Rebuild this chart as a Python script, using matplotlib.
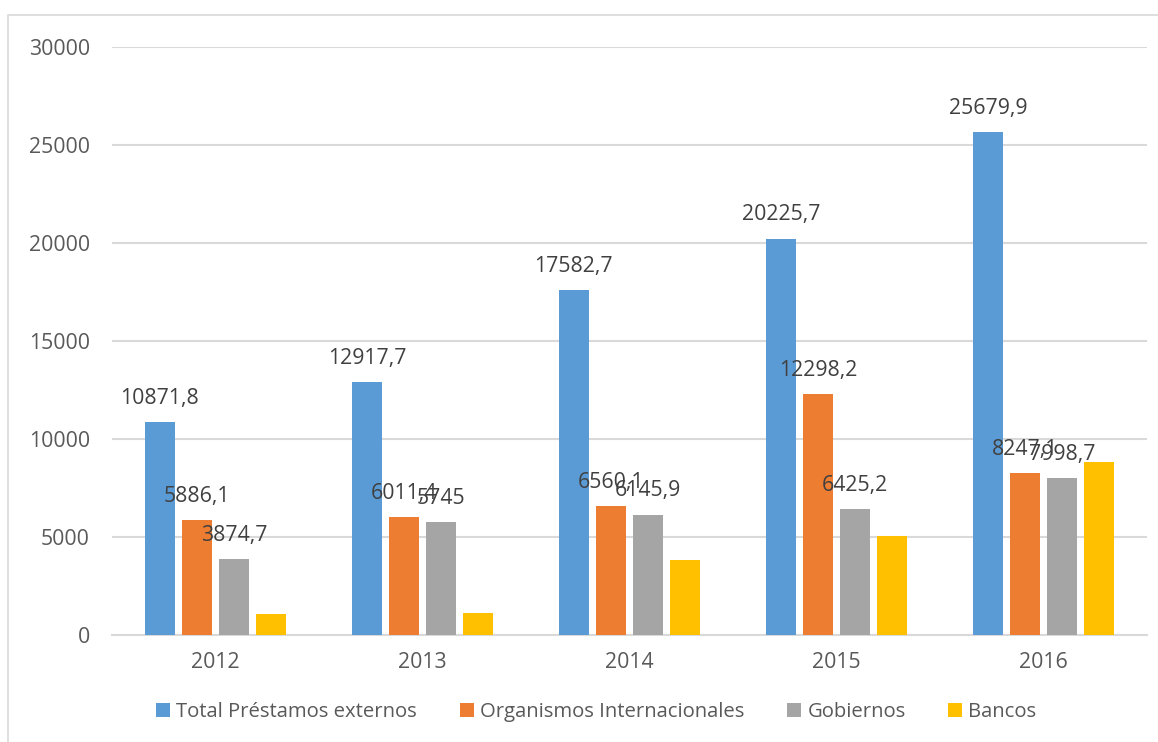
import matplotlib.pyplot as plt
import numpy as np
from matplotlib.patches import Rectangle

plt.rcParams['font.family'] = ['Open Sans', 'DejaVu Sans']

years = ["2012", "2013", "2014", "2015", "2016"]
total = [10871.8, 12917.7, 17582.7, 20225.7, 25679.9]
organismos = [5886.1, 6011.4, 6560.1, 12298.2, 8247.1]
gobiernos = [3874.7, 5745, 6145.9, 6425.2, 7998.7]
bancos = [1070, 1100, 3810, 5050, 8830]

series = [
    ("Total Préstamos externos", total, "#5b9bd5", True),
    ("Organismos Internacionales", organismos, "#ed7d31", True),
    ("Gobiernos", gobiernos, "#a5a5a5", True),
    ("Bancos", bancos, "#ffc000", False),
]

fig = plt.figure(figsize=(11.58, 7.42), dpi=100)
fig.patches.append(Rectangle((0.007, -0.01), 1.0, 0.99, transform=fig.transFigure,
                             fill=False, edgecolor="#d9d9d9", linewidth=1.2))
ax = fig.add_axes([0.0967, 0.1442, 0.8938, 0.7925])

x = np.arange(len(years))
width = 0.142
step = 0.179
for i, (name, vals, color, lab) in enumerate(series):
    pos = x + (i - 1.5) * step
    ax.bar(pos, vals, width, color=color, label=name, zorder=3)
    if lab:
        for px, v in zip(pos, vals):
            ax.annotate(f"{v:g}".replace(".", ","), (px, v), xytext=(0, 17),
                        textcoords="offset points", ha="center", va="center",
                        fontsize=15.3, color="#404040", zorder=4)

ax.set_xlim(-0.5, 4.5)
ax.set_ylim(0, 30000)
ax.set_yticks(np.arange(0, 30001, 5000))
ax.set_xticks(x)
ax.set_xticklabels(years)
ax.tick_params(length=0, labelsize=15.3, labelcolor="#595959")
ax.tick_params(axis="y", pad=16)
ax.tick_params(axis="x", pad=12)
ax.grid(axis="y", color="#d9d9d9", linewidth=1.5, zorder=0)
for s in ["top", "right", "left"]:
    ax.spines[s].set_visible(False)
ax.spines["bottom"].set_color("#d9d9d9")
ax.spines["bottom"].set_linewidth(1.5)

fig.legend(loc="center", bbox_to_anchor=(0.515, 0.04), ncol=4, frameon=False,
           fontsize=14.6, labelcolor="#595959", handlelength=0.7, handleheight=0.7,
           handletextpad=0.3, columnspacing=2.1)

fig.savefig("out.png", dpi=100)
